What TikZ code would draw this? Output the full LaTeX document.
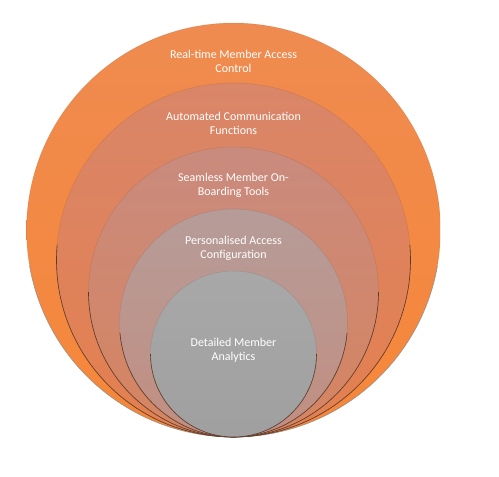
\documentclass[tikz,border=0pt]{standalone}
\usepackage{fontspec}
\setmainfont{Carlito}
\usetikzlibrary{positioning}
\definecolor{orA}{HTML}{EF8B50}
\definecolor{orAb}{HTML}{F68738}
\definecolor{orB}{HTML}{D98669}
\definecolor{orBb}{HTML}{E47F4E}
\definecolor{orC}{HTML}{C98B7E}
\definecolor{orCb}{HTML}{D6845F}
\definecolor{orD}{HTML}{B69C99}
\definecolor{orDb}{HTML}{C28E80}
\definecolor{greyE}{HTML}{A8A8A8}
\definecolor{ringline}{HTML}{5A3A2A}
\tikzset{
    ring/.style={circle, inner sep=0pt, outer sep=0pt, draw=ringline, draw opacity=0.15, line width=0.5pt},
    rimline/.style={draw=ringline, line width=0.6pt},
    ringlabel/.style={align=center, text=white, font=\fontsize{12}{14}\selectfont}
}
\begin{document}
\begin{tikzpicture}[x=1pt, y=-1pt]
\useasboundingbox (0,0) rectangle (499,477);
% nested circles, all touching at the bottom
\node[ring, minimum size=414pt, top color=orA, bottom color=orAb] (c1) at (233.5,230) {};
\draw[rimline, draw=ringline!55] (c1.190) arc[start angle=170, end angle=10, radius=207];
\node[ring, minimum size=354pt, top color=orB, bottom color=orBb] (c2) at (233.5,260) {};
\draw[rimline] (c2.175) arc[start angle=185, end angle=-5, radius=177];
\node[ring, minimum size=290pt, top color=orC, bottom color=orCb] (c3) at (233.5,292) {};
\draw[rimline] (c3.180) arc[start angle=180, end angle=0, radius=145];
\node[ring, minimum size=228pt, top color=orD, bottom color=orDb] (c4) at (233.5,323) {};
\draw[rimline] (c4.185) arc[start angle=175, end angle=5, radius=114];
\node[ring, minimum size=166pt, top color=greyE, bottom color=greyE!95!black] (c5) at (233.5,354) {};
\draw[rimline] (c5.180) arc[start angle=180, end angle=0, radius=83];
% labels
\node[ringlabel] (l1) at (233.5,61) {Real-time Member Access\\Control};
\node[ringlabel] (l2) at (233.5,123) {Automated Communication\\Functions};
\node[ringlabel] (l3) at (233.5,185) {Seamless Member On-\\Boarding Tools};
\node[ringlabel] (l4) at (233.5,248) {Personalised Access\\Configuration};
\node[ringlabel] (l5) at (233.5,350) {Detailed Member\\Analytics};
\end{tikzpicture}
\end{document}
